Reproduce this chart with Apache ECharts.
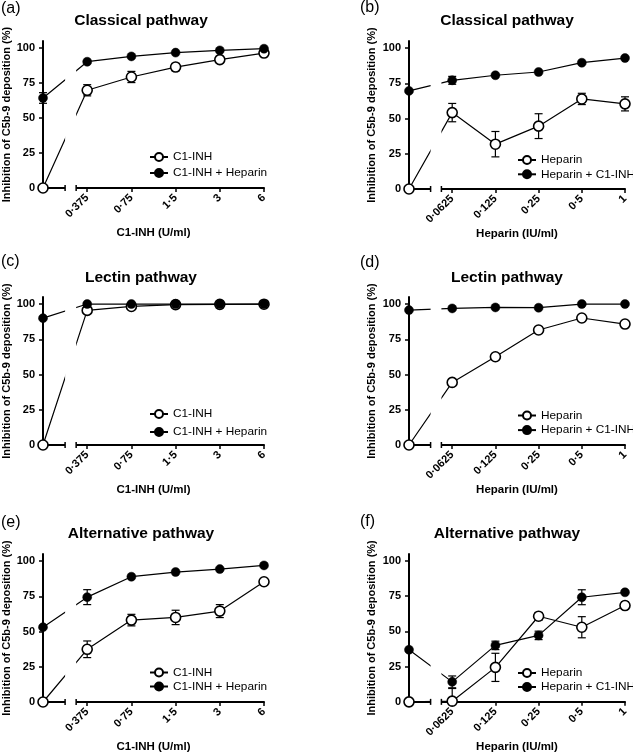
<!DOCTYPE html>
<html><head><meta charset="utf-8">
<script src="https://cdn.jsdelivr.net/npm/echarts@6/dist/echarts.min.js"></script>
<style>html,body{margin:0;padding:0;background:#fff}#c{width:633px;height:754px}</style>
</head><body><div id="c"></div>
<script>
const FONT = '"Liberation Sans", Arial, Helvetica, sans-serif';

// ---- tick labels ----
const c1inhDoseLabels = ['0·375', '0·75', '1·5', '3', '6'];
const heparinDoseLabels = ['0·0625', '0·125', '0·25', '0·5', '1'];
const dosePositions = [0, 1, 2, 3, 4, 5]; // 0 = no drug, then doubling doses
const yTicks = [0, 25, 50, 75, 100];
const axisBreak = [0.5, 0.75];

// ---- (a) Classical pathway, C1-INH ----
const aC1inh = [0, 69.8, 79.3, 86.4, 91.7, 96.4];
const aC1inhErr = [null, 4, 4, 2.6, 1.5, 1.5];
const aC1inhHep = [64.3, 90.2, 94, 96.7, 98.3, 99.5];
const aC1inhHepErr = [3.8, null, null, null, null, null];

// ---- (b) Classical pathway, Heparin ----
const bHep = [0, 54.2, 31.8, 44.6, 63.9, 60.4];
const bHepErr = [null, 6.5, 9, 8.8, 4, 5];
const bHepC1 = [69.6, 77.1, 80.7, 83, 89.6, 92.9];
const bHepC1Err = [null, 2.8, null, null, null, null];

// ---- (c) Lectin pathway, C1-INH ----
const cC1inh = [0, 95.5, 98.3, 99.6, 99.8, 99.9];
const cC1inhErr = [null, null, null, null, null, null];
const cC1inhHep = [90, 100, 100, 100, 100, 100];
const cC1inhHepErr = [null, null, null, null, null, null];

// ---- (d) Lectin pathway, Heparin ----
const dHep = [0, 44.4, 62.6, 81.6, 90.1, 85.8];
const dHepErr = [null, null, null, null, null, null];
const dHepC1 = [95.7, 96.9, 97.6, 97.4, 100, 100];
const dHepC1Err = [null, null, null, null, null, null];

// ---- (e) Alternative pathway, C1-INH ----
const eC1inh = [0, 37.4, 58.1, 60, 64.5, 85.3];
const eC1inhErr = [null, 5.9, 4.1, 5.1, 4.6, null];
const eC1inhHep = [53.1, 74.4, 88.9, 92.2, 94.3, 96.9];
const eC1inhHepErr = [null, 5.3, null, null, null, null];

// ---- (f) Alternative pathway, Heparin ----
const fHep = [0, 0.5, 24.5, 60.8, 53, 68.4];
const fHepErr = [null, 9, 10, 2.7, 7.5, 2.6];
const fHepC1 = [37, 14.2, 40.1, 47.2, 74.3, 77.8];
const fHepC1Err = [null, 4.2, 3, 3, 5.3, null];

const panels = [
  {letter: '(a)', title: 'Classical pathway', xName: 'C1-INH (U/ml)', ticks: c1inhDoseLabels,
   names: ['C1-INH', 'C1-INH + Heparin'], open: [aC1inh, aC1inhErr], filled: [aC1inhHep, aC1inhHepErr],
   grid: {left: 43, top: 41, width: 221, height: 147}, titlePos: [141, 21], letterPos: [1, 9],
   legend: {left: 149, top: 151, itemGap: 4}, yGap: 30},
  {letter: '(b)', title: 'Classical pathway', xName: 'Heparin (IU/ml)', ticks: heparinDoseLabels,
   names: ['Heparin', 'Heparin + C1-INH'], open: [bHep, bHepErr], filled: [bHepC1, bHepC1Err],
   grid: {left: 409, top: 41, width: 216, height: 148}, titlePos: [507, 21], letterPos: [360, 8],
   legend: {left: 517, top: 154, itemGap: 2.3}, yGap: 32},
  {letter: '(c)', title: 'Lectin pathway', xName: 'C1-INH (U/ml)', ticks: c1inhDoseLabels,
   names: ['C1-INH', 'C1-INH + Heparin'], open: [cC1inh, cC1inhErr], filled: [cC1inhHep, cC1inhHepErr],
   grid: {left: 43, top: 297, width: 221, height: 148}, titlePos: [141, 278], letterPos: [1, 262],
   legend: {left: 149, top: 408, itemGap: 6}, yGap: 30},
  {letter: '(d)', title: 'Lectin pathway', xName: 'Heparin (IU/ml)', ticks: heparinDoseLabels,
   names: ['Heparin', 'Heparin + C1-INH'], open: [dHep, dHepErr], filled: [dHepC1, dHepC1Err],
   grid: {left: 409, top: 297, width: 216, height: 148}, titlePos: [507, 278], letterPos: [360, 263],
   legend: {left: 517, top: 409.5, itemGap: 2.6}, yGap: 32},
  {letter: '(e)', title: 'Alternative pathway', xName: 'C1-INH (U/ml)', ticks: c1inhDoseLabels,
   names: ['C1-INH', 'C1-INH + Heparin'], open: [eC1inh, eC1inhErr], filled: [eC1inhHep, eC1inhHepErr],
   grid: {left: 43, top: 554, width: 221, height: 148}, titlePos: [141, 533.5], letterPos: [1, 523],
   legend: {left: 149, top: 666.5, itemGap: 2}, yGap: 30},
  {letter: '(f)', title: 'Alternative pathway', xName: 'Heparin (IU/ml)', ticks: heparinDoseLabels,
   names: ['Heparin', 'Heparin + C1-INH'], open: [fHep, fHepErr], filled: [fHepC1, fHepC1Err],
   grid: {left: 409, top: 554, width: 216, height: 148}, titlePos: [507, 534], letterPos: [360, 522],
   legend: {left: 517, top: 667, itemGap: 2}, yGap: 32}
];

const chart = echarts.init(document.getElementById('c'), null, {renderer: 'canvas'});

const grids = [], xAxes = [], yAxes = [], series = [], legends = [];
panels.forEach((p, i) => {
  grids.push(Object.assign({containLabel: false}, p.grid));
  xAxes.push({
    type: 'value', gridIndex: i, min: 0, max: 5,
    name: p.xName, nameLocation: 'middle', nameGap: 38.5,
    nameTextStyle: {fontFamily: FONT, fontWeight: 'bold', fontSize: 11.5, color: '#000'},
    axisLine: {onZero: false, lineStyle: {color: '#000', width: 2}},
    axisTick: {customValues: [1, 2, 3, 4, 5], length: 4, lineStyle: {color: '#000', width: 1.5}},
    axisLabel: {customValues: [1, 2, 3, 4, 5], formatter: v => p.ticks[Math.round(v) - 1],
      rotate: 45, margin: 8, fontFamily: FONT, fontWeight: 'bold', fontSize: 11, color: '#000'},
    splitLine: {show: false}
  });
  yAxes.push({
    type: 'value', gridIndex: i, min: 0, max: 105,
    name: 'Inhibition of C5b-9 deposition (%)', nameLocation: 'middle', nameGap: p.yGap,
    nameTextStyle: {fontFamily: FONT, fontWeight: 'bold', fontSize: 11, color: '#000'},
    axisLine: {show: true, onZero: false, lineStyle: {color: '#000', width: 2}},
    axisTick: {show: true, customValues: yTicks, length: 4, lineStyle: {color: '#000', width: 1.5}},
    axisLabel: {customValues: yTicks, margin: 8, fontFamily: FONT, fontWeight: 'bold', fontSize: 11, color: '#000'},
    splitLine: {show: false}
  });
  const mk = (vals, name, open) => ({
    type: 'line', name: name, xAxisIndex: i, yAxisIndex: i, clip: false,
    data: dosePositions.map((x, k) => [x, vals[k]]),
    symbol: 'circle', symbolSize: open ? 10 : 9, showSymbol: true,
    lineStyle: {color: '#000', width: 1.2},
    itemStyle: open ? {color: '#fff', borderColor: '#000', borderWidth: 1.6} : {color: '#000', borderColor: '#000', borderWidth: 0.5},
    emphasis: {disabled: true}, z: open ? 3 : 4
  });
  const mkErr = (vals, errs, tag) => ({
    type: 'custom', name: 'err' + i + tag, xAxisIndex: i, yAxisIndex: i, z: 2, silent: true,
    data: dosePositions.map((x, k) => [x, vals[k], errs[k]]).filter(d => d[2] != null),
    renderItem: (params, api) => {
      const x = api.value(0), v = api.value(1), e = api.value(2);
      const t = api.coord([x, v + e]);
      const b = api.coord([x, Math.max(0, v - e)]);
      const w = 4, st = {stroke: '#000', lineWidth: 1.2};
      return {type: 'group', children: [
        {type: 'line', shape: {x1: t[0], y1: t[1], x2: b[0], y2: b[1]}, style: st},
        {type: 'line', shape: {x1: t[0] - w, y1: t[1], x2: t[0] + w, y2: t[1]}, style: st},
        {type: 'line', shape: {x1: b[0] - w, y1: b[1], x2: b[0] + w, y2: b[1]}, style: st}
      ]};
    }
  });
  series.push(mkErr(p.open[0], p.open[1], 'o'));
  series.push(mkErr(p.filled[0], p.filled[1], 'f'));
  series.push(mk(p.open[0], p.names[0], true));
  series.push(mk(p.filled[0], p.names[1], false));
  legends.push({
    data: p.names, orient: 'vertical', left: p.legend.left, top: p.legend.top, itemGap: p.legend.itemGap,
    padding: 0, itemWidth: 18, itemHeight: 10, selectedMode: false, align: 'left',
    textStyle: {fontFamily: FONT, fontSize: 11.8, color: '#000'}
  });
});

chart.setOption({
  animation: false,
  backgroundColor: '#fff',
  grid: grids, xAxis: xAxes, yAxis: yAxes, series: series, legend: legends
});

const g = [];
panels.forEach((p, i) => {
  g.push({type: 'text', x: p.titlePos[0], y: p.titlePos[1], z: 110,
    style: {text: p.title, font: 'bold 15.5px ' + FONT, fill: '#000', textAlign: 'center', textVerticalAlign: 'middle'}});
  g.push({type: 'text', x: p.letterPos[0], y: p.letterPos[1], z: 110,
    style: {text: p.letter, font: '16px ' + FONT, fill: '#000', textAlign: 'left', textVerticalAlign: 'middle'}});
  const a = chart.convertToPixel({gridIndex: i}, [axisBreak[0], 0]);
  const b = chart.convertToPixel({gridIndex: i}, [axisBreak[1], 0]);
  const top = chart.convertToPixel({gridIndex: i}, [0, 105])[1];
  g.push({type: 'rect', z: 100, silent: true,
    shape: {x: a[0], y: top - 2, width: b[0] - a[0], height: a[1] - top + 3.6}, style: {fill: '#fff'}});
  [a, b].forEach(pt => g.push({type: 'line', z: 101, silent: true,
    shape: {x1: pt[0], y1: pt[1] - 3, x2: pt[0], y2: pt[1] + 3}, style: {stroke: '#000', lineWidth: 1.5}}));
});
chart.setOption({graphic: g});
</script>
</body></html>
